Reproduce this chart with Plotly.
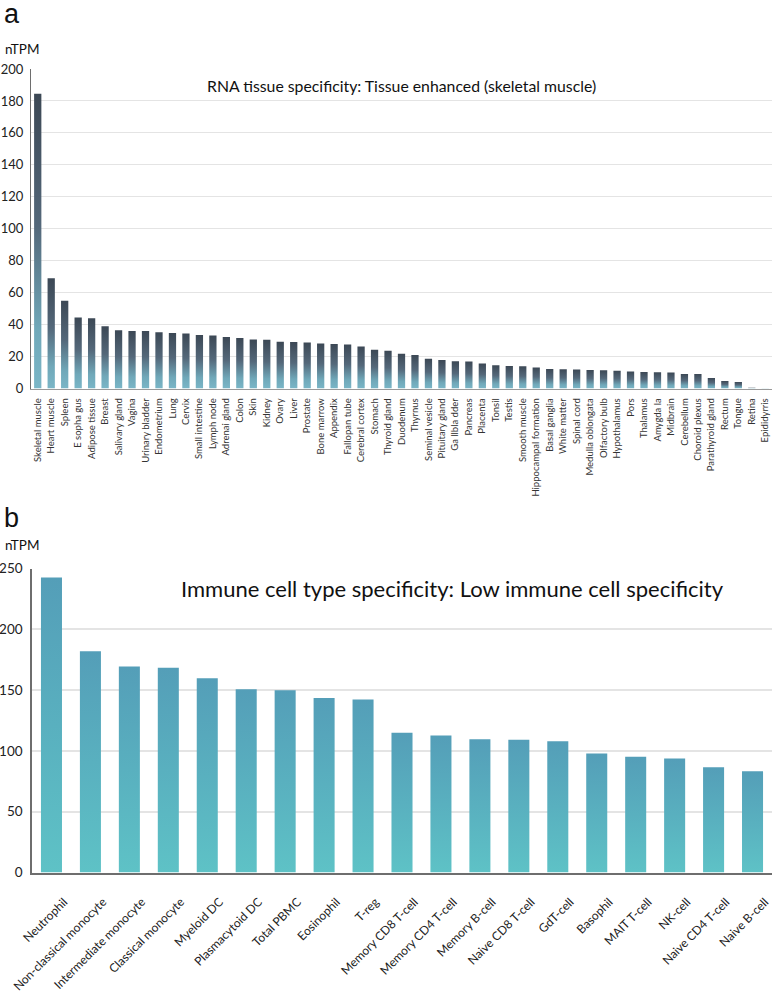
import plotly.graph_objects as go

# panel a: RNA tissue expression
tissues = [
    "Skeletal muscle", "Heart muscle", "Spleen", "E sopha gus", "Adipose tissue",
    "Breast", "Salivary gland", "Vagina", "Urinary bladder", "Endometrium",
    "Lung", "Cervix", "Small intestine", "Lymph node", "Adrenai gland",
    "Colon", "Skin", "Kidney", "Ovary", "Liver",
    "Prostate", "Bone marrow", "Appendix", "Fallopan tube", "Cerebral cortex",
    "Stomach", "Thyroid gland", "Duodenum", "Thyrnus", "Seminal vesicle",
    "Pituitary gland", "Ga llbla dder", "Pancreas", "Placenta", "Tonsil",
    "Testis", "Smooth muscle", "Hippocampal formation", "Basal ganglia", "White matter",
    "Spinal cord", "Medulla oblongata", "Olfactory bulb", "Hypothalamus", "Pors",
    "Thalamus", "Amygda la", "Midbrain", "Cerebellum", "Choroid plexus",
    "Parathyroid gland", "Rectum", "Tongue", "Retina", "Epididyrris",
]
tissue_ntpm = [
    184.5, 69.0, 55.0, 44.5, 44.0, 39.0, 36.5, 36.0, 36.0, 35.2,
    34.7, 34.4, 33.5, 33.2, 32.2, 31.6, 30.6, 30.5, 29.2, 29.1,
    28.8, 28.2, 27.8, 27.5, 26.3, 24.3, 23.6, 21.8, 21.0, 18.6,
    17.9, 17.0, 16.9, 15.7, 14.6, 14.1, 14.0, 13.2, 12.2, 12.1,
    11.9, 11.6, 11.5, 11.1, 10.7, 10.3, 10.2, 10.0, 9.1, 9.0,
    6.6, 4.7, 4.1, 0.5, 0.2,
]

# panel b: immune cell types
cells = [
    "Neutrophil", "Non-classical monocyte", "Intermediate monocyte", "Classical monocyte",
    "Myeloid DC", "Plasmacytoid DC", "Total PBMC", "Eosinophil", "T-reg",
    "Memory CD8 T-cell", "Memory CD4 T-cell", "Memory B-cell", "Naive CD8 T-cell",
    "GdT-cell", "Basophil", "MAIT T-cell", "NK-cell", "Naive CD4 T-cell", "Naive B-cell",
]
cell_ntpm = [
    242.5, 182.0, 169.5, 168.3, 159.8, 150.8, 149.9, 143.6, 142.3,
    114.9, 112.7, 109.6, 109.1, 108.0, 97.9, 95.1, 93.7, 86.6, 83.3,
]

FONT = "Lato"
W, H = 772, 997

fig = go.Figure()


def add_gradient_bars(names, values, xaxis, yaxis, scale, half=0.27):
    # plotly bars have no gradient fill, so draw each bar as a filled shape
    for i, (name, v) in enumerate(zip(names, values)):
        fig.add_trace(go.Scatter(
            x=[i - half, i - half, i + half, i + half, i - half],
            y=[0, v, v, 0, 0],
            mode="lines",
            fill="toself",
            line=dict(width=0),
            fillgradient=dict(type="vertical", colorscale=scale),
            name=name,
            hoverinfo="text",
            text=f"{name}: {v}",
            showlegend=False,
            xaxis=xaxis, yaxis=yaxis,
        ))


scale_a = [[0, "#7ab6c7"], [0.2, "#70a8b9"], [0.55, "#54687a"], [1, "#3c4855"]]
scale_b = [[0, "#5ec2c6"], [1, "#549eb8"]]

add_gradient_bars(tissues, tissue_ntpm, "x", "y", scale_a)
add_gradient_bars(cells, cell_ntpm, "x2", "y2", scale_b)

grid = "#e4e4e4"
axis_line = "#6e6e6e"

fig.update_layout(
    width=W, height=H,
    margin=dict(l=0, r=0, t=0, b=0),
    paper_bgcolor="white",
    plot_bgcolor="white",
    font=dict(family=FONT, color="#222"),
    xaxis=dict(
        domain=[31 / W, 1.0], anchor="y", automargin=False,
        range=[-0.5, len(tissues) - 0.5],
        tickmode="array", tickvals=list(range(len(tissues))), ticktext=tissues,
        tickangle=-90, tickfont=dict(size=9.5, color="#333"),
        ticklabeloverflow="allow",
        showgrid=False, zeroline=False,
        showline=True, linecolor="#9a9a9a", linewidth=1,
        ticks="outside", ticklen=5, tickcolor="rgba(0,0,0,0)",
    ),
    yaxis=dict(
        domain=[1 - 388.5 / H, 1 - 69 / H], anchor="x", automargin=False,
        range=[0, 200], dtick=20,
        tickfont=dict(size=13, color="#222"),
        ticklabeloverflow="allow",
        showgrid=True, gridcolor=grid, gridwidth=1, zeroline=False,
        showline=True, linecolor=axis_line, linewidth=1,
        ticks="outside", ticklen=4, tickcolor="rgba(0,0,0,0)",
    ),
    xaxis2=dict(
        domain=[32 / W, 1.0], anchor="y2", automargin=False,
        range=[-0.5, len(cells) - 0.5],
        # labels hang slightly right of the bar centres, as in the original
        tickmode="array", tickvals=[i + 0.32 for i in range(len(cells))], ticktext=cells,
        tickangle=-45, tickfont=dict(size=12, color="#222"),
        ticklabeloverflow="allow",
        showgrid=False, zeroline=False,
        showline=True, linecolor=axis_line, linewidth=1.5,
        ticks="outside", ticklen=16, tickcolor="rgba(0,0,0,0)",
    ),
    yaxis2=dict(
        domain=[1 - 872.5 / H, 1 - 568.5 / H], anchor="x2", automargin=False,
        range=[0, 250], dtick=50,
        tickfont=dict(size=13.5, color="#222"),
        ticklabeloverflow="allow",
        showgrid=True, gridcolor=grid, gridwidth=1.5, zeroline=False,
        showline=True, linecolor=axis_line, linewidth=1.5,
        ticks="outside", ticklen=5, tickcolor="rgba(0,0,0,0)",
    ),
)

annotations = [
    dict(text="a", x=2 / W, y=1 - 14 / H, size=27, family="Liberation Sans"),
    dict(text="nTPM", x=3 / W, y=1 - 49 / H, size=13.5, family=FONT),
    dict(text="b", x=2 / W, y=1 - 518 / H, size=27, family="Liberation Sans"),
    dict(text="nTPM", x=3 / W, y=1 - 545 / H, size=13.5, family=FONT),
]
for a in annotations:
    fig.add_annotation(
        text=a["text"], xref="paper", yref="paper", x=a["x"], y=a["y"],
        xanchor="left", yanchor="middle", showarrow=False,
        font=dict(size=a["size"], family=a["family"], color="#111"),
    )

# chart titles inside the plot areas
fig.add_annotation(
    text="RNA tissue specificity: Tissue enhanced (skeletal muscle)",
    xref="paper", yref="paper", x=401.5 / W, y=1 - 86 / H,
    xanchor="center", yanchor="middle", showarrow=False,
    font=dict(size=15.8, family=FONT, color="#111"),
)
fig.add_annotation(
    text="Immune cell type specificity: Low immune cell specificity",
    xref="paper", yref="paper", x=452 / W, y=1 - 588 / H,
    xanchor="center", yanchor="middle", showarrow=False,
    font=dict(size=22, family=FONT, color="#111"),
)

# the page body has a default 8px margin; drop it so the figure fills the window
fig.write_html(
    "out.html",
    config={"displayModeBar": False},
    post_script="document.body.style.margin = '0';",
)
